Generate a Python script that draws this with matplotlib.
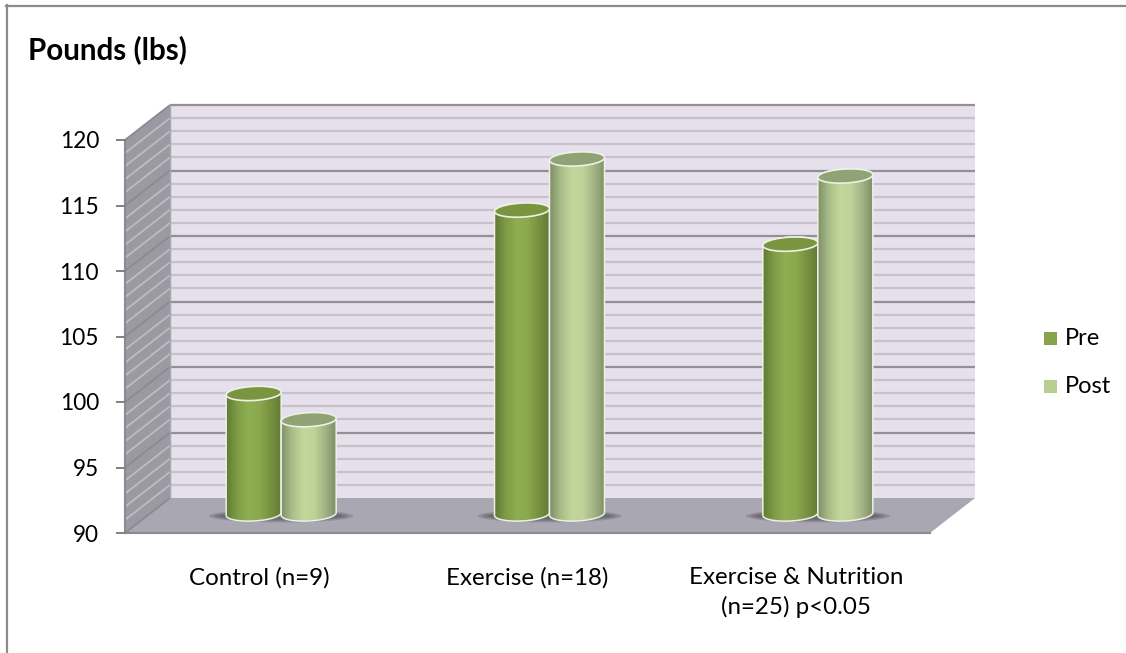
import numpy as np
import matplotlib
matplotlib.use("Agg")
import matplotlib.pyplot as plt
from matplotlib.patches import Polygon, Ellipse, Rectangle
from matplotlib.colors import LinearSegmentedColormap

categories = ["Control (n=9)", "Exercise (n=18)", "Exercise & Nutrition\n(n=25) p<0.05"]
pre = [99.2, 113.2, 110.6]
post = [97.2, 117.1, 115.8]
y_ticks = [90, 95, 100, 105, 110, 115, 120]
minor_step = 1
series_names = ["Pre", "Post"]

W, H = 1126, 653
plt.rcParams['font.family'] = ['Lato', 'DejaVu Sans']
fig = plt.figure(figsize=(W / 100, H / 100), dpi=100, facecolor='white')

# Axes covers the front plane of the 3D box
L, R, T, B = 125, 930, 140, 533
ax = fig.add_axes([L / W, 1 - B / H, (R - L) / W, (B - T) / H])
ax.set_xlim(0, 3)
ax.set_ylim(90, 120)
ax.axis('off')

ux = (R - L) / 3          # px per category
uy = (B - T) / 30         # px per pound
DX = 45 / ux              # box depth in data units
DY = 35 / uy

# Back wall, side wall, floor
ax.add_patch(Polygon([(DX, 90 + DY), (3 + DX, 90 + DY), (3 + DX, 120 + DY), (DX, 120 + DY)],
                     fc='#e6e0ec', ec='none', clip_on=False, zorder=1))
ax.add_patch(Polygon([(0, 90), (DX, 90 + DY), (DX, 120 + DY), (0, 120)],
                     fc='#9b99a1', ec='none', clip_on=False, zorder=1))
ax.add_patch(Polygon([(0, 90), (3, 90), (3 + DX, 90 + DY), (DX, 90 + DY)],
                     fc='#a9a7b1', ec='none', clip_on=False, zorder=1))

for v in np.arange(90, 120 + minor_step, minor_step):
    major = (v % 5 == 0)
    wall_c = '#928f97' if major else '#c6c2cb'
    side_c = '#8b8991' if major else '#bdbcc2'
    if v > 90:
        ax.plot([DX, 3 + DX], [v + DY, v + DY], color=wall_c, lw=1.6, clip_on=False, zorder=2,
                solid_capstyle='butt')
    ax.plot([0, DX], [v, v + DY], color=side_c, lw=1.3, clip_on=False, zorder=2,
            solid_capstyle='butt')

# box edges
ax.plot([0, 0], [90, 120], color='#8c8a90', lw=1.5, clip_on=False, zorder=3)
ax.plot([0, 3], [90, 90], color='#8c8a90', lw=1.5, clip_on=False, zorder=3)
ax.plot([DX, DX], [90 + DY, 120 + DY], color='#a8a6ac', lw=1, clip_on=False, zorder=3)

# Cylinder bars
pre_cmap = LinearSegmentedColormap.from_list('pre', ['#5f7a35', '#7f9c47', '#8fae52', '#8aa84e', '#76913f', '#5f7a35'])
post_cmap = LinearSegmentedColormap.from_list('post', ['#7f9068', '#a9bd88', '#c3d79c', '#bfd399', '#a3b585', '#7f8f68'])
grad = np.linspace(0, 1, 256).reshape(1, -1)
bar_w = 55 / ux
eh = 14 / uy              # ellipse height in data units
x_off = 22 / ux
y_off = 19 / uy
base = 90 + y_off
tilt = 0.05               # rise of the ellipse, px per px


def arc(cx, cy, t0, t1, n=40):
    """Tilted ellipse arc in data units."""
    t = np.radians(np.linspace(t0, t1, n))
    xs = np.cos(t) * bar_w / 2
    ys = np.sin(t) * eh / 2 + tilt * xs * ux / uy
    return np.column_stack([cx + xs, cy + ys])


def cylinder(cx, value, cmap, top_c, z):
    top = value + y_off
    x0, x1 = cx - bar_w / 2, cx + bar_w / 2
    outline = np.vstack([arc(cx, base, 180, 360), arc(cx, top, 0, 180)])
    body = Polygon(outline, closed=True, fc='none', ec='#eef0e6', lw=1.1, clip_on=False, zorder=z + 0.2)
    ax.add_patch(body)
    im = ax.imshow(grad, extent=[x0, x1, base - eh, top + eh], aspect='auto', cmap=cmap,
                   zorder=z, interpolation='bilinear')
    im.set_clip_path(Polygon(outline, closed=True, transform=ax.transData))
    ax.add_patch(Polygon(arc(cx, top, 0, 360, 80), closed=True, fc=top_c, ec='#eef0e6', lw=1.2,
                         clip_on=False, zorder=z + 0.3))


for i in range(len(categories)):
    cx = i + 0.5 + x_off
    # soft base shadow
    for extra, hgt, alpha in [(34, 13, 0.3), (24, 10, 0.4), (14, 7, 0.5)]:
        ax.add_patch(Ellipse((cx, base - 2 / uy), 2 * bar_w + extra / ux, hgt / uy, fc='#5c5a61', ec='none',
                             alpha=alpha, clip_on=False, zorder=4))
    cylinder(cx - bar_w / 2, pre[i], pre_cmap, '#7a953f', 5)
    cylinder(cx + bar_w / 2, post[i], post_cmap, '#8fa374', 6)

ax.set_xlim(0, 3)
ax.set_ylim(90, 120)

# y ticks and labels
for v in y_ticks:
    ax.plot([-8 / ux, 0], [v, v], color='#808080', lw=1.4, clip_on=False, zorder=3)
    ax.text(-26 / ux, v - 2 / uy, str(v), ha='right', va='center', fontsize=16.3, color='black', clip_on=False)

# category labels
for i, c in enumerate(categories):
    ax.text(i + 0.5, 90 - 34 / uy, c, ha='center', va='top', fontsize=17.4, color='black',
            linespacing=1.43, clip_on=False)

# title, frame
fig.text(28 / W, 1 - 49.5 / H, "Pounds (lbs)", fontsize=21.3, fontweight='bold', va='center', ha='left', color='black')
fig.add_artist(plt.Line2D([6.5 / W, 6.5 / W], [0, 1 - 5 / H], color='#8c8c8c', lw=1.6))
fig.add_artist(plt.Line2D([5.5 / W, 1], [1 - 5.5 / H, 1 - 5.5 / H], color='#8c8c8c', lw=1.6))

# legend
for name, col, y in zip(series_names, ['#86a44a', '#b7cd92'], [338.5, 386.5]):
    fig.add_artist(Rectangle((1044 / W, 1 - (y + 6.5) / H), 13 / W, 13 / H, transform=fig.transFigure,
                             fc=col, ec='none'))
    fig.text(1065 / W, 1 - y / H, name, fontsize=17, va='center', ha='left', color='black')

fig.savefig('out.png', dpi=100)
